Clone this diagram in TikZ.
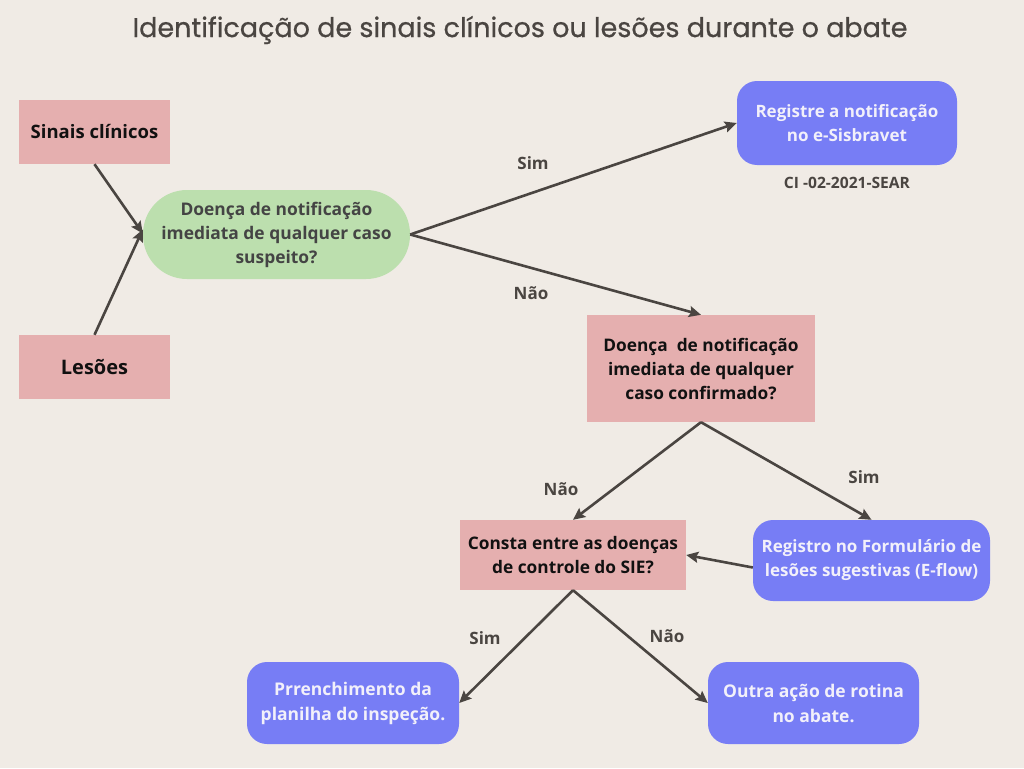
\documentclass[tikz,border=0pt]{standalone}
\usepackage{fontspec}
\setmainfont{Open Sans}
\newfontfamily\titlefont[FakeBold=0.6]{Poppins}
\usetikzlibrary{arrows.meta}
\definecolor{bg}{HTML}{F0EBE5}
\definecolor{pinkbox}{HTML}{E5AFAF}
\definecolor{greenbox}{HTML}{BCDFAE}
\definecolor{bluebox}{HTML}{777DF5}
\definecolor{ink}{HTML}{4A4541}
\definecolor{darktxt}{HTML}{111111}
\definecolor{greytxt}{HTML}{444444}
\definecolor{whitetxt}{HTML}{F2F0FA}
\begin{document}
\begin{tikzpicture}[x=1pt,y=-1pt,
  base/.style={font=\fontsize{17}{24}\selectfont\bfseries, align=center, inner sep=0pt, anchor=center},
  pinkb/.style={base, fill=pinkbox, text=darktxt},
  greenb/.style={base, fill=greenbox, text=greytxt, rounded corners=44pt},
  blueb/.style={base, fill=bluebox, text=whitetxt, rounded corners=20pt},
  lbl/.style={font=\fontsize{17}{20}\selectfont\bfseries, text=ink, inner sep=0pt},
  conn/.style={draw=ink, line width=2.6pt, -{Stealth[length=12pt,width=11pt,inset=2pt]}}
]
\fill[bg] (0,0) rectangle (1024,768);
\useasboundingbox (0,0) rectangle (1024,768);

\node[font=\titlefont\fontsize{27}{32}\selectfont, text=ink, inner sep=0pt] (title) at (520,30) {Identificação de sinais clínicos ou lesões durante o abate};

\node[pinkb, minimum width=151pt, minimum height=64pt, font=\fontsize{18.5}{24}\selectfont\bfseries] (sinais) at (94.5,132) {Sinais clínicos};
\node[pinkb, minimum width=151pt, minimum height=64pt, font=\fontsize{20}{24}\selectfont\bfseries] (lesoes) at (94.5,367) {Lesões};
\node[greenb, minimum width=267pt, minimum height=89pt, font=\fontsize{17.4}{24}\selectfont\bfseries] (green) at (276.5,234.5) {Doença de notificação\\imediata de qualquer caso\\suspeito?};
\node[blueb, minimum width=220pt, minimum height=84pt] (reg) at (847,123) {Registre a notificação\\no e-Sisbravet};
\node[lbl, font=\fontsize{15.6}{18}\selectfont\bfseries] (ci) at (847,183) {CI -02-2021-SEAR};
\node[pinkb, minimum width=228pt, minimum height=107pt, font=\fontsize{17.3}{24}\selectfont\bfseries] (conf) at (701,368.5) {Doença\ \ de notificação\\imediata de qualquer\\caso confirmado?};
\node[pinkb, minimum width=226pt, minimum height=70pt, font=\fontsize{17.3}{24}\selectfont\bfseries] (sie) at (573,555) {Consta entre as doenças\\de controle do SIE?};
\node[blueb, minimum width=237pt, minimum height=81pt] (form) at (871.5,560.5) {Registro no Formulário de\\lesões sugestivas (E-flow)};
\node[blueb, minimum width=212pt, minimum height=82pt, font=\fontsize{17.5}{25}\selectfont\bfseries] (plan) at (353,703) {Prrenchimento da\\planilha do inspeção.};
\node[blueb, minimum width=211pt, minimum height=82pt, font=\fontsize{17.5}{25}\selectfont\bfseries] (outra) at (813.5,703) {Outra ação de rotina\\no abate.};

\draw[conn] (sinais.south) -- ([yshift=1pt]green.west);
\draw[conn] (lesoes.north) -- ([yshift=5pt]green.west);
\draw[conn] (green.east) -- (reg.west);
\draw[conn] (green.east) -- (conf.north);
\draw[conn] (conf.south) -- (sie.north);
\draw[conn] (conf.south) -- (form.north);
\draw[conn] ([yshift=-7pt]form.west) -- (sie.east);
\draw[conn] (sie.south) -- (plan.east);
\draw[conn] (sie.south) -- (outra.west);

\node[lbl] (l1) at (533,163) {Sim};
\node[lbl] (l2) at (531,293) {Não};
\node[lbl] (l3) at (561,489) {Não};
\node[lbl] (l4) at (864,477) {Sim};
\node[lbl] (l5) at (485,638) {Sim};
\node[lbl] (l6) at (667,636) {Não};
\end{tikzpicture}
\end{document}
